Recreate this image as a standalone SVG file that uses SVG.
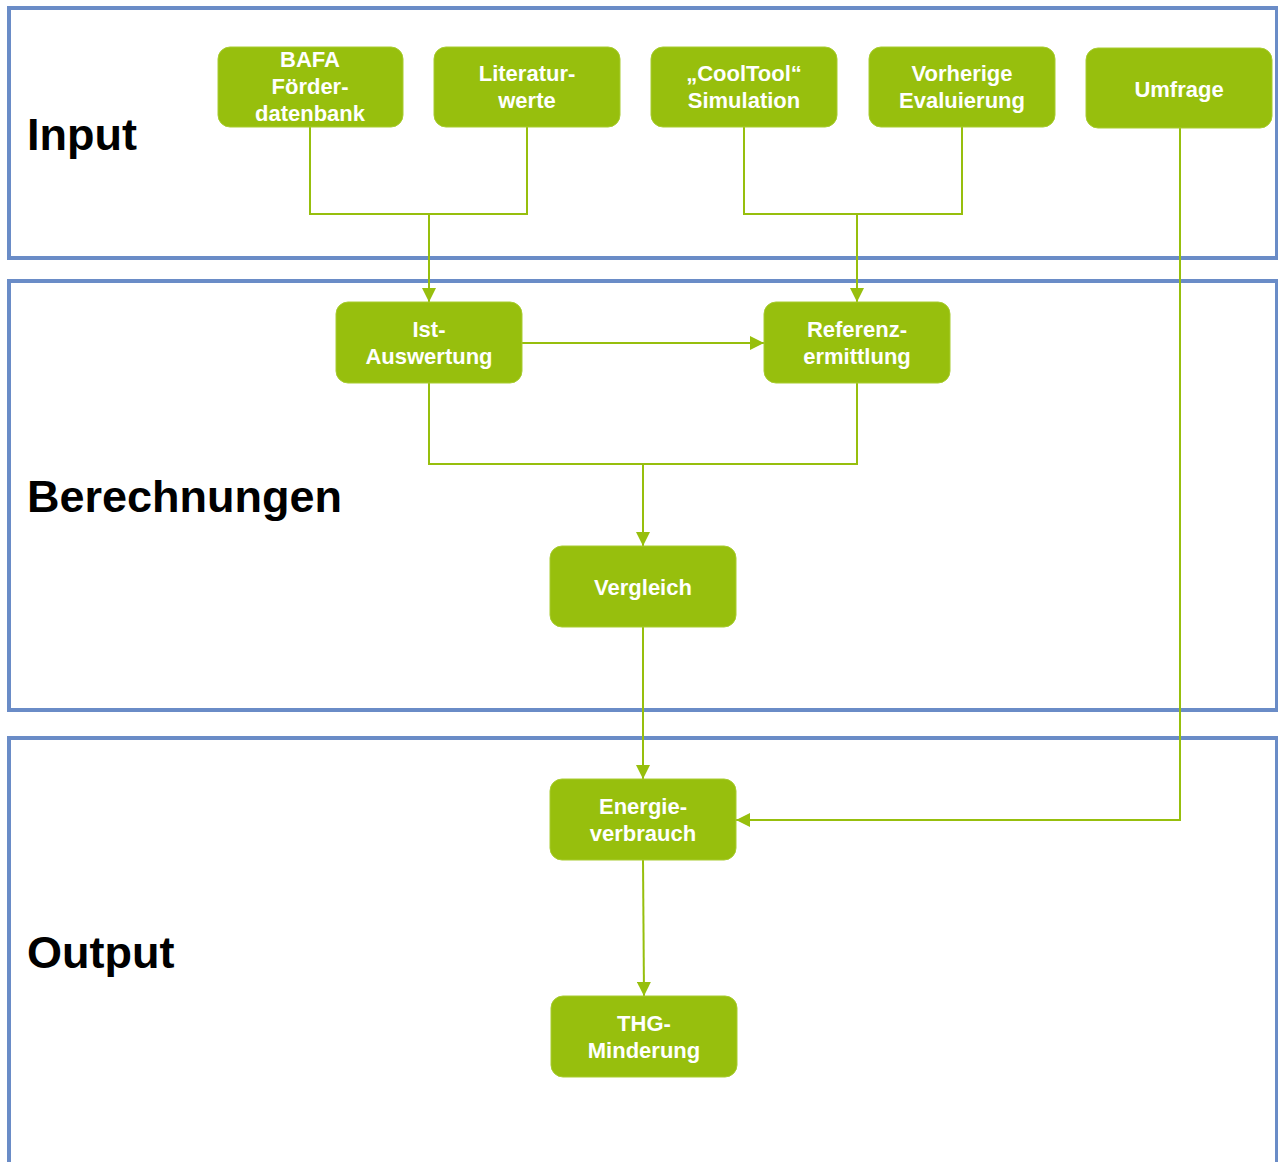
<svg xmlns="http://www.w3.org/2000/svg" width="1278" height="1162" viewBox="0 0 1278 1162">
<style>
.frame{fill:none;stroke:#6A8CC7;stroke-width:4}
.title{font-family:"Liberation Sans",Arial,sans-serif;font-weight:bold;font-size:45px;fill:#000}
.box{fill:#97BF0D;stroke:#A8CC30;stroke-width:1}
.lbl{font-family:"Liberation Sans",Arial,sans-serif;font-weight:bold;font-size:22px;fill:#fff;text-anchor:middle}
.conn{fill:none;stroke:#97BF0D;stroke-width:2}
</style>
<defs>
<marker id="arr" viewBox="0 0 14 14" refX="14" refY="7" markerWidth="14" markerHeight="14" markerUnits="userSpaceOnUse" orient="auto">
<path d="M0,0 L14,7 L0,14 Z" fill="#97BF0D"/>
</marker>
</defs>
<g id="frames">
<rect class="frame" x="9" y="8" width="1268" height="250"/>
<rect class="frame" x="9" y="281" width="1268" height="429"/>
<rect class="frame" x="9" y="738" width="1268" height="440"/>
<text class="title" x="27" y="150">Input</text>
<text class="title" x="27" y="512">Berechnungen</text>
<text class="title" x="27" y="968">Output</text>
</g>
<g id="connectors">
<path class="conn" d="M310,127 V214 H527 V127"/>
<path class="conn" d="M429,214 V302" marker-end="url(#arr)"/>
<path class="conn" d="M744,127 V214 H962 V127"/>
<path class="conn" d="M857,214 V302" marker-end="url(#arr)"/>
<path class="conn" d="M522,343 H764" marker-end="url(#arr)"/>
<path class="conn" d="M429,383 V464 H857 V383"/>
<path class="conn" d="M643,464 V546" marker-end="url(#arr)"/>
<path class="conn" d="M643,627 V779" marker-end="url(#arr)"/>
<path class="conn" d="M1180,128 V820 H736" marker-end="url(#arr)"/>
<path class="conn" d="M643,860 L644,996" marker-end="url(#arr)"/>
</g>
<g id="n-bafa">
<rect class="box" x="218" y="47" width="185" height="80" rx="12"/>
<text class="lbl" x="310" y="67">BAFA</text>
<text class="lbl" x="310" y="94">Förder-</text>
<text class="lbl" x="310" y="121">datenbank</text>
</g>
<g id="n-literatur">
<rect class="box" x="434" y="47" width="186" height="80" rx="12"/>
<text class="lbl" x="527" y="81">Literatur-</text>
<text class="lbl" x="527" y="108">werte</text>
</g>
<g id="n-cooltool">
<rect class="box" x="651" y="47" width="186" height="80" rx="12"/>
<text class="lbl" x="744" y="81">„CoolTool“</text>
<text class="lbl" x="744" y="108">Simulation</text>
</g>
<g id="n-vorherige">
<rect class="box" x="869" y="47" width="186" height="80" rx="12"/>
<text class="lbl" x="962" y="81">Vorherige</text>
<text class="lbl" x="962" y="108">Evaluierung</text>
</g>
<g id="n-umfrage">
<rect class="box" x="1086" y="48" width="186" height="80" rx="12"/>
<text class="lbl" x="1179" y="97">Umfrage</text>
</g>
<g id="n-ist">
<rect class="box" x="336" y="302" width="186" height="81" rx="12"/>
<text class="lbl" x="429" y="337">Ist-</text>
<text class="lbl" x="429" y="364">Auswertung</text>
</g>
<g id="n-referenz">
<rect class="box" x="764" y="302" width="186" height="81" rx="12"/>
<text class="lbl" x="857" y="337">Referenz-</text>
<text class="lbl" x="857" y="364">ermittlung</text>
</g>
<g id="n-vergleich">
<rect class="box" x="550" y="546" width="186" height="81" rx="12"/>
<text class="lbl" x="643" y="595">Vergleich</text>
</g>
<g id="n-energie">
<rect class="box" x="550" y="779" width="186" height="81" rx="12"/>
<text class="lbl" x="643" y="814">Energie-</text>
<text class="lbl" x="643" y="841">verbrauch</text>
</g>
<g id="n-thg">
<rect class="box" x="551" y="996" width="186" height="81" rx="12"/>
<text class="lbl" x="644" y="1031">THG-</text>
<text class="lbl" x="644" y="1058">Minderung</text>
</g>
</svg>
